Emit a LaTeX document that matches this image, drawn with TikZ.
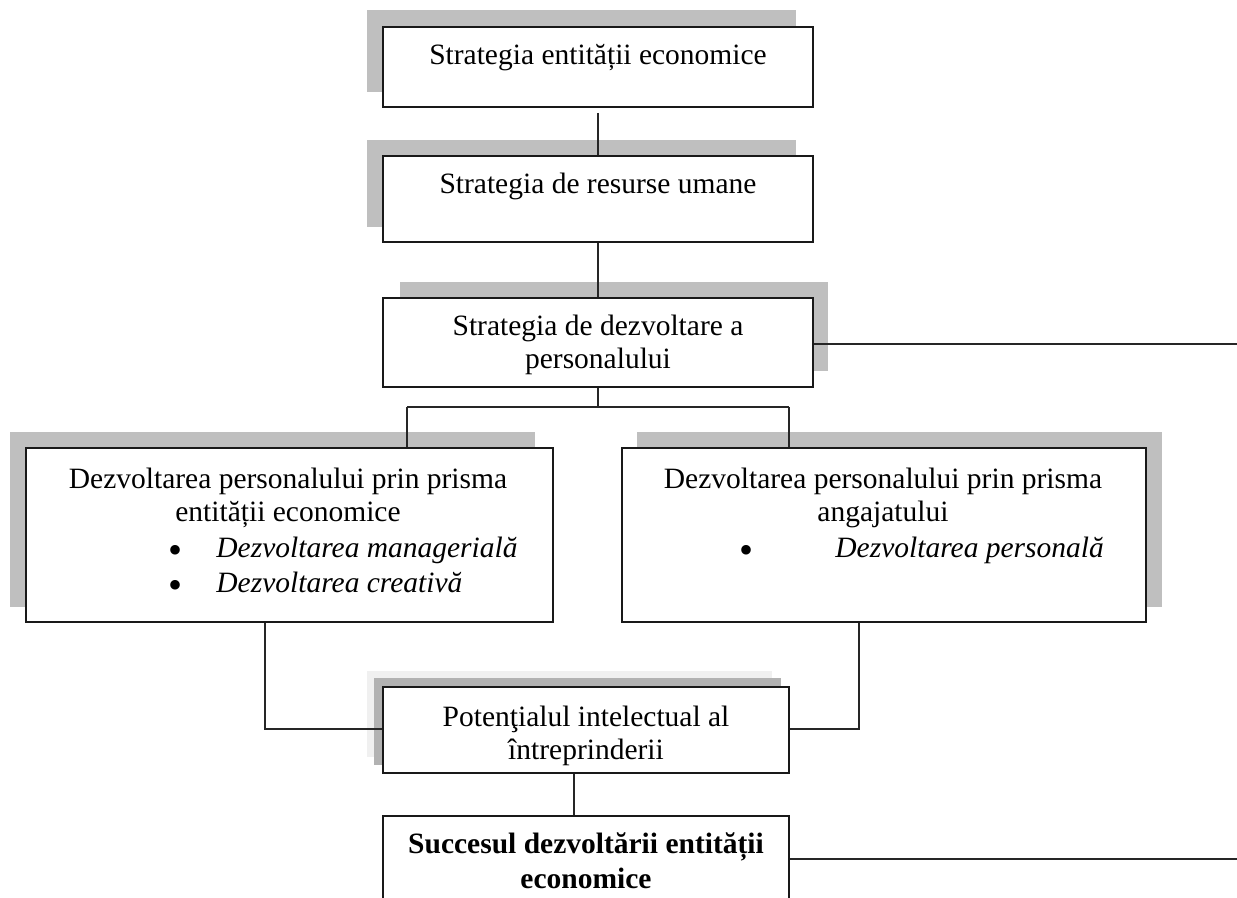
\documentclass[tikz,border=0pt]{standalone}
\usepackage{fontspec}
\setmainfont{Liberation Serif}
\begin{document}
\begin{tikzpicture}[x=0.5pt,y=-0.5pt,
  boxst/.style={draw=black!90, line width=0.8pt, fill=white, inner sep=0pt},
  conn/.style={draw=black!85, line width=0.7pt},
  shad/.style={fill=black!25},
  shadlight/.style={fill=black!6},
  shaddark/.style={fill=black!30},
  txt/.style={anchor=base, inner sep=0pt, font=\fontsize{14.75}{17.25}\selectfont},
  bul/.style={anchor=base, inner sep=0pt, text height=9pt, text depth=0pt, font=\fontsize{20}{22}\selectfont},
  txtl/.style={anchor=base west, inner sep=0pt, font=\fontsize{14.75}{17.25}\selectfont\itshape},
  txtb/.style={anchor=base, inner sep=0pt, font=\fontsize{14.75}{17.25}\selectfont\bfseries}]
\useasboundingbox (0,0) rectangle (1237,898);
% shadows
\fill[shad] (367,10) rectangle (796,92);
\fill[shad] (367,140) rectangle (796,227);
\fill[shad] (400,282) rectangle (828,371);
\fill[shad] (10,432) rectangle (535,607);
\fill[shad] (637,432) rectangle (1162,607);
\fill[shadlight] (367,671) rectangle (772,757);
\fill[shaddark] (374,678) rectangle (781,765);
% boxes
\node[boxst, minimum width=215pt, minimum height=40pt] (b1) at (598,67) {};
\node[boxst, minimum width=215pt, minimum height=43pt] (b2) at (598,199) {};
\node[boxst, minimum width=215pt, minimum height=44.5pt] (b3) at (598,342.5) {};
\node[boxst, minimum width=263.5pt, minimum height=87pt] (bL) at (289.5,535) {};
\node[boxst, minimum width=262pt, minimum height=87pt] (bR) at (884,535) {};
\node[boxst, minimum width=203pt, minimum height=43pt] (b5) at (586,730) {};
\node[boxst, minimum width=203pt, minimum height=60pt] (b6) at (586,876) {};
% texts
\node[txt] (t1) at (598,65) {Strategia entității economice};
\node[txt] (t2) at (598,194) {Strategia de resurse umane};
\node[txt] (t3a) at (598,336) {Strategia de dezvoltare a};
\node[txt] (t3b) at (598,369) {personalului};
\node[txt] (tLa) at (288,488) {Dezvoltarea personalului prin prisma};
\node[txt] (tLb) at (288,522) {entității economice};
\node[bul] (bu1) at (176,563) {\textbullet};
\node[txtl] (tLc) at (216,557) {Dezvoltarea managerială};
\node[bul] (bu2) at (176,598) {\textbullet};
\node[txtl] (tLd) at (216,592) {Dezvoltarea creativă};
\node[txt] (tRa) at (883,488) {Dezvoltarea personalului prin prisma};
\node[txt] (tRb) at (883,522) {angajatului};
\node[bul] (bu3) at (746,563) {\textbullet};
\node[txtl] (tRc) at (835,557) {Dezvoltarea personală};
\node[txt] (t5a) at (586,726) {Potenţialul intelectual al};
\node[txt] (t5b) at (586,759) {întreprinderii};
\node[txtb] (t6a) at (586,853) {Succesul dezvoltării entității};
\node[txtb] (t6b) at (586,888) {economice};
% connector coordinates
\coordinate (g1) at (598,113);
\coordinate (e1) at (1237,344);
\coordinate (j0) at (598,407);
\coordinate (jL) at (407,407);
\coordinate (jR) at (789,407);
\coordinate (jA) at (265,729);
\coordinate (jB) at (859,729);
\coordinate (k) at (574,795);
\coordinate (e2) at (1237,859);
% connectors
\draw[conn] (g1) -- (b2.north);
\draw[conn] (b2.south) -- (b3.north);
\draw[conn] (b3.east |- e1) -- (e1);
\draw[conn] (b3.south) -- (j0);
\draw[conn] (jL) -- (jR);
\draw[conn] (jL) -- (jL |- bL.north);
\draw[conn] (jR) -- (jR |- bR.north);
\draw[conn] (jA |- bL.south) -- (jA) -- (b5.west |- jA);
\draw[conn] (jB |- bR.south) -- (jB) -- (b5.east |- jB);
\draw[conn] (k |- b5.south) -- (k |- b6.north);
\draw[conn] (b6.east |- e2) -- (e2);
\end{tikzpicture}
\end{document}
